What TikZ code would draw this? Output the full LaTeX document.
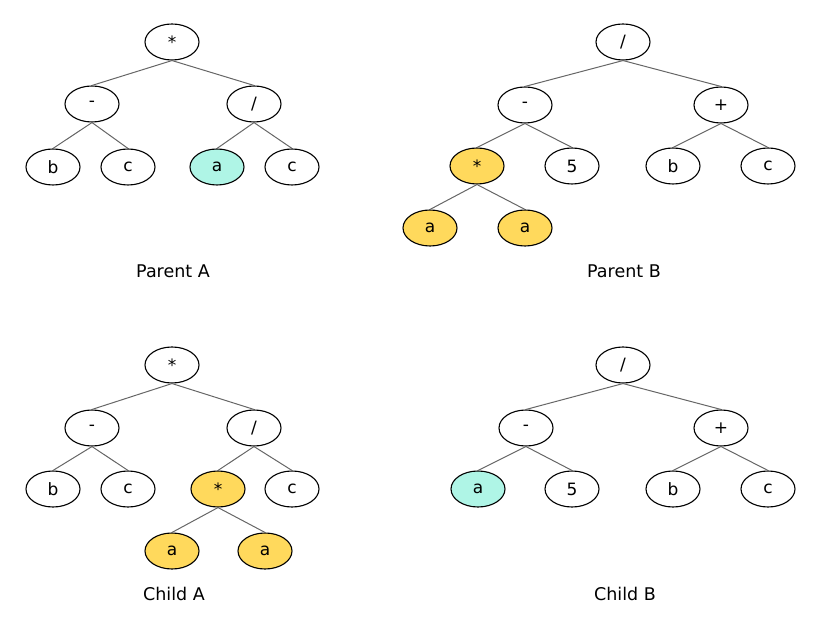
\documentclass[tikz,border=0pt]{standalone}
\usepackage{fontspec}
\setmainfont{DejaVu Sans}
\usetikzlibrary{shapes.geometric}
\definecolor{edgegray}{HTML}{666666}
\definecolor{cyanfill}{HTML}{AFF5E6}
\definecolor{goldfill}{HTML}{FFD95C}
\tikzset{
  tn/.style={ellipse, draw=black, line width=1.1pt, fill=white, minimum width=54pt, minimum height=36pt, inner sep=0pt, font=\fontsize{17}{19}\selectfont},
  cyn/.style={tn, fill=cyanfill},
  gld/.style={tn, fill=goldfill},
  lbl/.style={font=\fontsize{17.5}{20}\selectfont},
  edge/.style={draw=edgegray, line width=1pt}
}
\begin{document}
\begin{tikzpicture}[x=1pt,y=-1pt]
\useasboundingbox (0,0) rectangle (822,628);
% Parent A
\node[tn] (pa1) at (172,42) {*};
\node[tn] (pa2) at (92,104) {-};
\node[tn] (pa3) at (254,104) {/};
\node[tn] (pa4) at (53,167) {b};
\node[tn] (pa5) at (128,167) {c};
\node[cyn] (pa6) at (217,167) {a};
\node[tn] (pa7) at (292,167) {c};
\node[lbl] (pal) at (173,271) {Parent A};
\draw[edge] (pa1.south) -- (pa2.north);
\draw[edge] (pa1.south) -- (pa3.north);
\draw[edge] (pa2.south) -- (pa4.north);
\draw[edge] (pa2.south) -- (pa5.north);
\draw[edge] (pa3.south) -- (pa6.north);
\draw[edge] (pa3.south) -- (pa7.north);
% Parent B
\node[tn] (pb1) at (623,42) {/};
\node[tn] (pb2) at (525,105) {-};
\node[tn] (pb3) at (721,105) {+};
\node[gld] (pb4) at (477,166) {*};
\node[tn] (pb5) at (572,166) {5};
\node[tn] (pb6) at (673,166) {b};
\node[tn] (pb7) at (768,166) {c};
\node[gld] (pb8) at (430,228) {a};
\node[gld] (pb9) at (525,228) {a};
\node[lbl] (pbl) at (624,271) {Parent B};
\draw[edge] (pb1.south) -- (pb2.north);
\draw[edge] (pb1.south) -- (pb3.north);
\draw[edge] (pb2.south) -- (pb4.north);
\draw[edge] (pb2.south) -- (pb5.north);
\draw[edge] (pb3.south) -- (pb6.north);
\draw[edge] (pb3.south) -- (pb7.north);
\draw[edge] (pb4.south) -- (pb8.north);
\draw[edge] (pb4.south) -- (pb9.north);
% Child A
\node[tn] (ca1) at (172,365) {*};
\node[tn] (ca2) at (92,428) {-};
\node[tn] (ca3) at (254,428) {/};
\node[tn] (ca4) at (53,489) {b};
\node[tn] (ca5) at (128,489) {c};
\node[gld] (ca6) at (218,489) {*};
\node[tn] (ca7) at (292,489) {c};
\node[gld] (ca8) at (172,551) {a};
\node[gld] (ca9) at (265,551) {a};
\node[lbl] (cal) at (174,594) {Child A};
\draw[edge] (ca1.south) -- (ca2.north);
\draw[edge] (ca1.south) -- (ca3.north);
\draw[edge] (ca2.south) -- (ca4.north);
\draw[edge] (ca2.south) -- (ca5.north);
\draw[edge] (ca3.south) -- (ca6.north);
\draw[edge] (ca3.south) -- (ca7.north);
\draw[edge] (ca6.south) -- (ca8.north);
\draw[edge] (ca6.south) -- (ca9.north);
% Child B
\node[tn] (cb1) at (623,365) {/};
\node[tn] (cb2) at (526,428) {-};
\node[tn] (cb3) at (721,428) {+};
\node[cyn] (cb4) at (478,489) {a};
\node[tn] (cb5) at (572,489) {5};
\node[tn] (cb6) at (673,489) {b};
\node[tn] (cb7) at (768,489) {c};
\node[lbl] (cbl) at (625,594) {Child B};
\draw[edge] (cb1.south) -- (cb2.north);
\draw[edge] (cb1.south) -- (cb3.north);
\draw[edge] (cb2.south) -- (cb4.north);
\draw[edge] (cb2.south) -- (cb5.north);
\draw[edge] (cb3.south) -- (cb6.north);
\draw[edge] (cb3.south) -- (cb7.north);
\end{tikzpicture}
\end{document}
